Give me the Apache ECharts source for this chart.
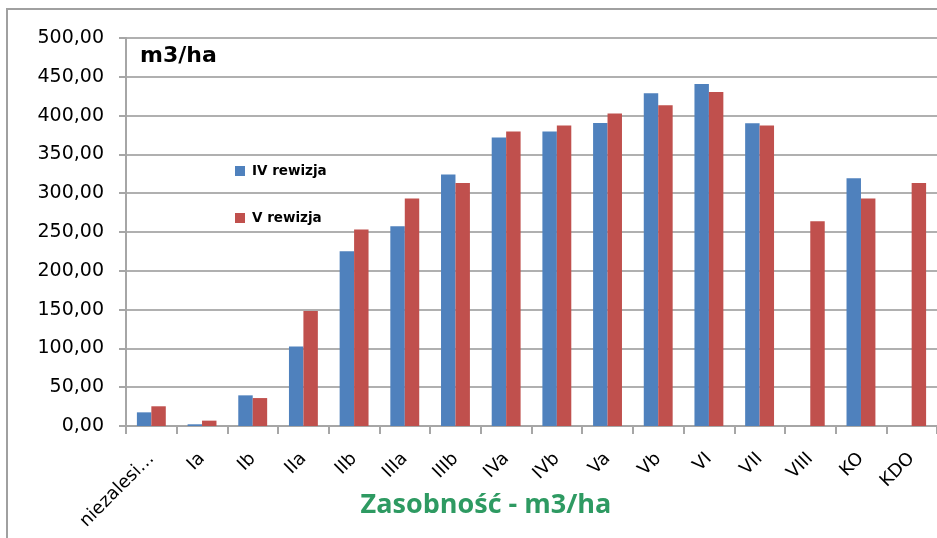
<!DOCTYPE html>
<html>
<head>
<meta charset="utf-8">
<script src="https://cdn.jsdelivr.net/npm/echarts@6/dist/echarts.min.js"></script>
<style>html,body{margin:0;padding:0;background:#fff}#c{width:937px;height:538px}</style>
</head>
<body>
<div id="c"></div>
<script>
var categories = ['niezalesi…', 'Ia', 'Ib', 'IIa', 'IIb', 'IIIa', 'IIIb', 'IVa', 'IVb', 'Va', 'Vb', 'VI', 'VII', 'VIII', 'KO', 'KDO'];
var rev4 = [17.6, 2.2, 39.5, 102.6, 225.3, 257.5, 324.1, 371.7, 379.4, 390.6, 428.8, 440.8, 390.2, null, 319.3, null];
var rev5 = [25.4, 6.9, 36.0, 148.1, 253.3, 293.2, 313.3, 379.4, 387.2, 402.6, 413.3, 430.5, 387.2, 264.0, 293.2, 313.3];
var seriesNames = ['IV rewizja', 'V rewizja'];
var yTicks = {min: 0, max: 500, interval: 50};

var chart = echarts.init(document.getElementById('c'), null, {renderer: 'canvas'});
var gray = '#a6a6a6';
chart.setOption({
  animation: false,
  backgroundColor: '#fff',
  title: {
    text: 'm3/ha', left: 140, top: 45, padding: 0,
    textStyle: {fontFamily: 'DejaVu Sans', fontWeight: 'bold', fontSize: 22, color: '#000'}
  },
  legend: {
    orient: 'vertical', left: 235, top: 164, padding: 0, itemWidth: 10, itemHeight: 10, itemGap: 33,
    icon: 'rect', selectedMode: false,
    data: seriesNames,
    textStyle: {fontFamily: 'DejaVu Sans', fontWeight: 'bold', fontSize: 13.5, color: '#000', lineHeight: 14, padding: [0, 0, 0, 2]}
  },
  grid: {left: 126, top: 38, width: 821, height: 388, containLabel: false},
  xAxis: {
    type: 'category', data: categories,
    axisLine: {lineStyle: {color: gray, width: 2}},
    axisTick: {show: true, length: 8, lineStyle: {color: gray, width: 2}},
    axisLabel: {rotate: 45, margin: 30, interval: 0, fontFamily: 'DejaVu Sans', fontSize: 18, color: '#000'}
  },
  yAxis: {
    type: 'value', min: yTicks.min, max: yTicks.max, interval: yTicks.interval,
    axisLine: {show: true, lineStyle: {color: gray, width: 2}},
    axisTick: {show: true, length: 7, lineStyle: {color: gray, width: 2}},
    splitLine: {lineStyle: {color: '#b0b0b0', width: 2}},
    axisLabel: {
      margin: 22, fontFamily: 'DejaVu Sans', fontSize: 19, color: '#000',
      formatter: function (v) { return v.toFixed(2).replace('.', ','); }
    }
  },
  series: [
    {name: seriesNames[0], type: 'bar', data: rev4, barGap: '0%', barCategoryGap: '43%', itemStyle: {color: '#4f81bd'}},
    {name: seriesNames[1], type: 'bar', data: rev5, barGap: '0%', barCategoryGap: '43%', itemStyle: {color: '#c0504d'}}
  ],
  graphic: [
    {type: 'rect', shape: {x: 7, y: 9, width: 1000, height: 600}, style: {fill: 'none', stroke: '#a0a0a0', lineWidth: 2}, silent: true, z: -1},
    {type: 'text', x: 486, y: 505, style: {text: 'Zasobność - m3/ha', fontFamily: 'Open Sans', fontWeight: 'bold', fontSize: 27, fill: '#2e9a62', align: 'center', verticalAlign: 'middle'}}
  ]
});
</script>
</body>
</html>
